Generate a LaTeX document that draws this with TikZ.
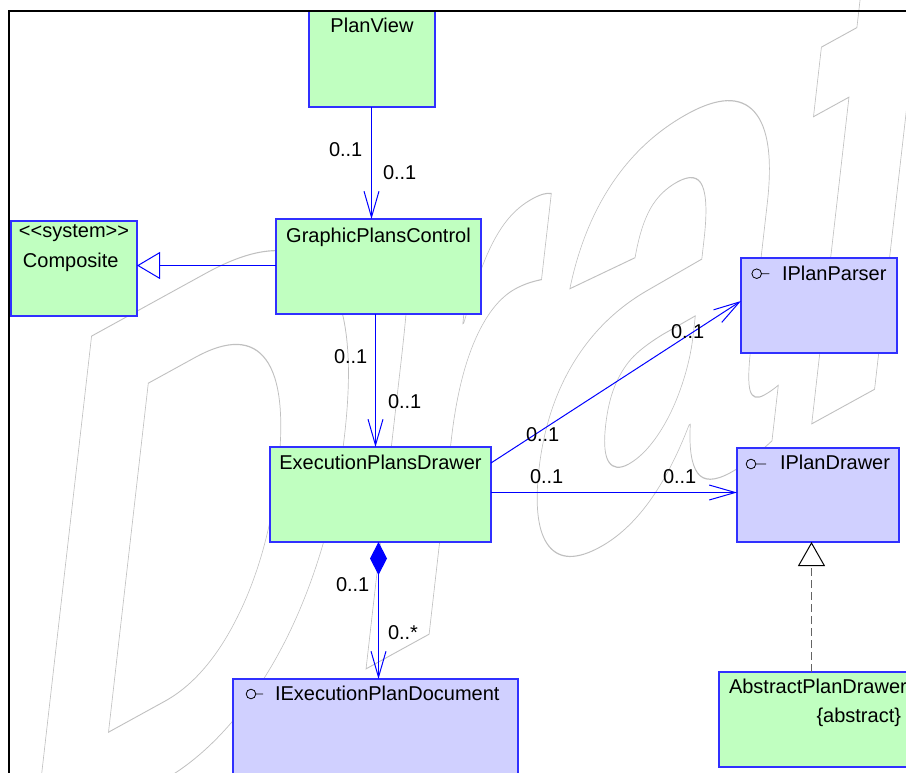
\documentclass[tikz,border=0pt]{standalone}
\usepackage{fontspec}
\newfontfamily\uml{Liberation Sans}
\newfontfamily\wmfont{Liberation Sans}
\usetikzlibrary{arrows.meta,calc}
\definecolor{umlgreen}{RGB}{192,255,192}
\definecolor{umlpurple}{RGB}{208,208,255}
\definecolor{umlborder}{RGB}{48,48,255}
\definecolor{umlline}{RGB}{0,0,255}
\definecolor{dashgray}{RGB}{100,100,100}
\definecolor{wmgray}{RGB}{192,192,192}
\begin{document}
\begin{tikzpicture}[x=1pt,y=-1pt,
  every node/.style={inner sep=0pt, outer sep=0pt},
  classbox/.style={draw=umlborder, line width=1.1pt, anchor=north west},
  gbox/.style={classbox, fill=umlgreen},
  ibox/.style={classbox, fill=umlpurple},
  txt/.style={font=\uml\fontsize{20}{24}\selectfont, text=black},
  lbl/.style={txt, anchor=base west},
  assoc/.style={draw=umlline, line width=1pt, -{Straight Barb[length=26pt,width=15pt]}},
  gen/.style={draw=umlline, line width=1pt, -{Triangle[open, length=23pt, width=27pt, fill=white]}},
  real/.style={draw=dashgray, line width=1pt, dash pattern=on 8pt off 4pt, -{Triangle[open, length=24pt, width=27pt, fill=white, color=black]}},
  comp/.style={draw=umlline, line width=1pt, {Diamond[length=33pt, width=17pt, fill=umlline]}-{Straight Barb[length=26pt,width=15pt]}},
  icon/.style={draw=black, line width=0.8pt}
]
\useasboundingbox (0,0) rectangle (906,773);
\clip (0,0) rectangle (906,773);
% watermark
\begin{scope}[shift={(2,869)}, cm={0.613,0.337,0.114,1,(0,0)}]
  \node[anchor=base west, transform shape] (wm) at (0,0) {\color{wmgray}\special{pdf:code 1 Tr 1.1 w}\wmfont\bfseries\fontsize{750}{750}\selectfont Draft\special{pdf:code 0 Tr}};
\end{scope}
% boxes
\node[gbox, minimum width=126pt, minimum height=96pt] (pv) at (309,11) {};
\node[gbox, minimum width=126pt, minimum height=95pt] (cp) at (11,221) {};
\node[gbox, minimum width=205pt, minimum height=95pt] (gpc) at (276,219) {};
\node[gbox, minimum width=221pt, minimum height=95pt] (epd) at (270,447) {};
\node[ibox, minimum width=156pt, minimum height=95pt] (ipp) at (741,258) {};
\node[ibox, minimum width=162pt, minimum height=94pt] (ipd) at (737,448) {};
\node[gbox, minimum width=200pt, minimum height=95pt] (apd) at (719,672) {};
\node[ibox, minimum width=285pt, minimum height=110pt] (iepd) at (233,679) {};
% connector end points
\coordinate (c1) at ($(pv.south)+(-0.5,0)$);
\coordinate (c2) at ($(gpc.west)+(0,-1)$);
\coordinate (c3) at ($(gpc.south)+(-3,0)$);
\coordinate (c4) at ($(epd.north east)+(0,16)$);
\coordinate (c5) at ($(ipp.west)+(0,-4.5)$);
\coordinate (c6) at ($(epd.east)+(0,-2)$);
\coordinate (c7) at ($(epd.south)+(-2,0)$);
\coordinate (c8) at ($(apd.north west)+(92.5,0)$);
% connectors
\draw[assoc] (c4) -- (c5);
\draw[assoc] (c6) -- (c6 -| ipd.west);
\draw[comp] (c7) -- (c7 |- iepd.north);
\draw[assoc] (c1) -- (c1 |- gpc.north);
\draw[gen] (c2) -- (c2 -| cp.east);
\draw[assoc] (c3) -- (c3 |- epd.north);
\draw[real] (c8) -- (c8 |- ipd.south);
% box texts
\node[txt, anchor=base] (tpv) at (372,33) {PlanView};
\node[lbl] (tst) at (19,238) {<<system>>};
\node[lbl] (tcp) at (23,268) {Composite};
\node[txt, anchor=base] (tgpc) at (378.5,243) {GraphicPlansControl};
\node[txt, anchor=base] (tepd) at (380.5,469) {ExecutionPlansDrawer};
\node[lbl] (tipp) at (782,280) {IPlanParser};
\node[lbl] (tipd) at (780,469) {IPlanDrawer};
\node[lbl] (tiepd) at (275,700) {IExecutionPlanDocument};
\node[lbl] (tapd) at (729,693) {AbstractPlanDrawer};
\node[txt, anchor=base east] (tabs) at (901,722) {\{abstract\}};
% interface icons
\draw[icon] (756.7,273.7) circle[radius=4.8] (761.5,273.7) -- (769.3,273.7);
\draw[icon] (751,464) circle[radius=4.8] (755.8,464) -- (766,464);
\draw[icon] (251,694) circle[radius=4.8] (255.8,694) -- (263,694);
% multiplicities
\node[lbl] (m1) at (329,157) {0..1};
\node[lbl] (m2) at (383,180) {0..1};
\node[lbl] (m3) at (334,363) {0..1};
\node[lbl] (m4) at (388,408) {0..1};
\node[lbl] (m5) at (526,441) {0..1};
\node[lbl] (m6) at (671,338) {0..1};
\node[lbl] (m7) at (530,483) {0..1};
\node[lbl] (m8) at (663,483) {0..1};
\node[lbl] (m9) at (336,591) {0..1};
\node[lbl] (m10) at (388,639) {0..*};
% frame
\draw[black, line width=2.5pt] (9,773) -- (9,11) -- (906,11);
\end{tikzpicture}
\end{document}
